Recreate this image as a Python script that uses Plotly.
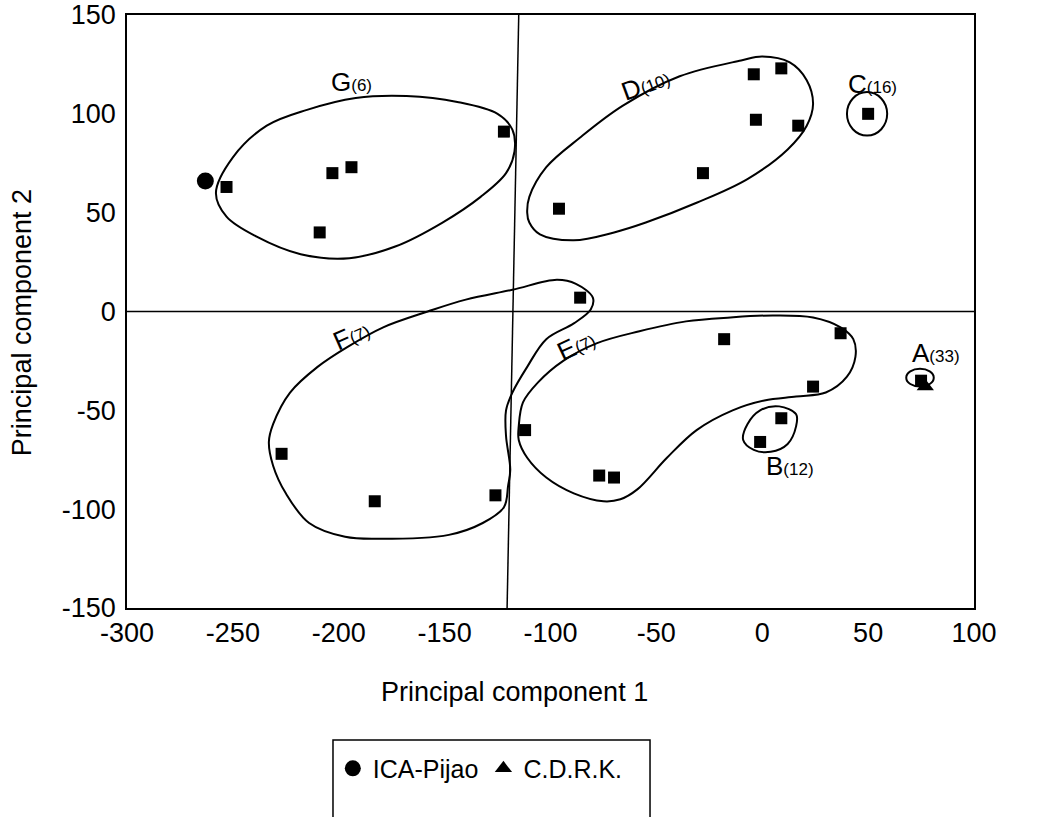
import plotly.graph_objects as go

# ---------------- data ----------------
# accessions (black squares)
acc_pc1 = [-253, -203, -194, -209, -122,          # G
           -96, -28, -4, 9, -3, 17,               # D
           50,                                    # C
           -227, -183, -126, -86,                 # F
           -112, -77, -70, -18, 37, 24,           # E
           9, -1,                                 # B
           75]                                    # A
acc_pc2 = [63, 70, 73, 40, 91,
           52, 70, 120, 123, 97, 94,
           100,
           -72, -96, -93, 7,
           -60, -83, -84, -14, -11, -38,
           -54, -66,
           -35]

# checks
ica_pc1 = [-263]
ica_pc2 = [66]
cdrk_pc1 = [77]
cdrk_pc2 = [-38]

# hand-drawn group outlines
g_out_pc1 = [-258, -250, -234, -215, -192, -168, -144, -125, -118, -117, -121, -133, -151, -173, -195, -218, -239, -253]
g_out_pc2 = [60, 78, 94, 102, 108, 109, 106, 100, 92, 81, 70, 58, 45, 33, 27, 29, 38, 48]

d_out_pc1 = [-111, -110, -102, -86, -66, -39, -10, 0, 13, 21, 24, 21, 12, -7, -31, -55, -70, -89, -105, -110]
d_out_pc2 = [50, 58, 73, 88, 104, 119, 127, 129, 126, 117, 105, 94, 82, 67, 55, 45, 40, 36, 39, 45]

e_out_pc1 = [-115, -113, -106, -94, -78, -58, -36, -15, 5, 24, 37, 43, 44, 40, 30, 16, 1, -14, -31, -45, -59, -67, -75, -89, -102, -111, -115]
e_out_pc2 = [-58, -46, -36, -25, -16, -10, -5, -3, -2, -3, -8, -14, -23, -33, -41, -43, -45, -50, -60, -74, -90, -95, -96, -92, -84, -74, -65]

f_out_pc1 = [-233, -231, -223, -210, -196, -179, -158, -140, -118, -97, -88, -80, -81, -89, -102, -111, -118, -121, -121, -119, -120, -122, -132, -148, -181, -197, -214, -225, -231]
f_out_pc2 = [-66, -57, -41, -28, -18, -8, 0, 6, 11, 16, 14, 7, 1, -6, -14, -28, -41, -50, -63, -80, -88, -99, -107, -113, -115, -114, -107, -92, -78]

b_out_pc1 = [-7, -1, 8, 16, 16, 12, 4, -4, -9]
b_out_pc2 = [-57, -50, -48, -52, -58, -67, -71, -70, -65]

# small rings (pc1 min/max, pc2 min/max)
c_ring = [40, 59, 89, 111]
a_ring = [68, 81, -38, -29]

# group labels
group_names = ["G", "D", "C", "F", "E", "B", "A"]
group_sizes = [6, 10, 16, 7, 7, 12, 33]

# reference lines
vline_pc1 = [-115, -120.5]
vline_pc2 = [150, -150]

x_ticks = [-300, -250, -200, -150, -100, -50, 0, 50, 100]
y_ticks = [-150, -100, -50, 0, 50, 100, 150]

# ---------------- figure ----------------
FONT = "Liberation Sans, Arial, Helvetica, sans-serif"
fig = go.Figure()


def closed(xs, ys):
    return list(xs) + [xs[0]], list(ys) + [ys[0]]


for xs, ys in [(g_out_pc1, g_out_pc2), (d_out_pc1, d_out_pc2), (e_out_pc1, e_out_pc2),
               (f_out_pc1, f_out_pc2), (b_out_pc1, b_out_pc2)]:
    cx, cy = closed(xs, ys)
    fig.add_trace(go.Scatter(x=cx, y=cy, mode="lines",
                             line=dict(color="black", width=2, shape="spline", smoothing=1),
                             showlegend=False, hoverinfo="skip"))

fig.add_trace(go.Scatter(x=acc_pc1, y=acc_pc2, mode="markers",
                         marker=dict(symbol="square", size=12, color="black"),
                         showlegend=False))
fig.add_trace(go.Scatter(x=ica_pc1, y=ica_pc2, mode="markers", name="ICA-Pijao",
                         marker=dict(symbol="circle", size=17, color="black")))
fig.add_trace(go.Scatter(x=cdrk_pc1, y=cdrk_pc2, mode="markers", name="C.D.R.K.",
                         marker=dict(symbol="triangle-up", size=15, color="black")))

shapes = [
    dict(type="line", xref="x", yref="y", x0=x_ticks[0], x1=x_ticks[-1], y0=0, y1=0,
         line=dict(color="black", width=1.5)),
    dict(type="line", xref="x", yref="y", x0=vline_pc1[0], x1=vline_pc1[1],
         y0=vline_pc2[0], y1=vline_pc2[1], line=dict(color="black", width=1.5)),
    dict(type="circle", xref="x", yref="y", x0=c_ring[0], x1=c_ring[1], y0=c_ring[2], y1=c_ring[3],
         line=dict(color="black", width=2)),
    dict(type="circle", xref="x", yref="y", x0=a_ring[0], x1=a_ring[1], y0=a_ring[2], y1=a_ring[3],
         line=dict(color="black", width=2)),
    # legend frame (open at the bottom, cut by the page edge)
    dict(type="path", xref="paper", yref="paper",
         path="M 0.2432 -0.40 L 0.2432 -0.2226 L 0.6175 -0.2226 L 0.6175 -0.40",
         line=dict(color="black", width=1.5)),
]

label_pos = {
    "G": (-194, 116, 0),
    "D": (-55, 115, -20),
    "C": (52, 115, 0),
    "F": (-194, -12, -24),
    "E": (-88, -17, -25),
    "B": (13, -78, 0),
    "A": (82, -21, 0),
}
annotations = []
for name, size in zip(group_names, group_sizes):
    px, py, ang = label_pos[name]
    annotations.append(dict(
        x=px, y=py, xref="x", yref="y", showarrow=False, textangle=ang,
        text=f"{name}<span style='font-size:17px'>({size})</span>",
        font=dict(family=FONT, size=26, color="black")))

annotations.append(dict(x=0.458, y=-0.142, xref="paper", yref="paper", showarrow=False,
                        text="Principal component 1", xanchor="center", yanchor="middle",
                        font=dict(family=FONT, size=27, color="black")))
annotations.append(dict(x=-0.124, y=0.482, xref="paper", yref="paper", showarrow=False,
                        text="Principal component 2", textangle=-90, xanchor="center", yanchor="middle",
                        font=dict(family=FONT, size=27, color="black")))

fig.update_layout(
    width=1037, height=817,
    margin=dict(l=127, r=63, t=15, b=209, autoexpand=False),
    paper_bgcolor="white", plot_bgcolor="white",
    font=dict(family=FONT, size=24, color="black"),
    shapes=shapes, annotations=annotations,
    legend=dict(orientation="h", x=0.243, y=-0.232, xanchor="left", yanchor="top",
                font=dict(family=FONT, size=25, color="black"),
                bgcolor="rgba(0,0,0,0)", borderwidth=0, itemwidth=30),
)
fig.update_xaxes(range=[x_ticks[0], x_ticks[-1]], tickvals=x_ticks, ticktext=[str(v) for v in x_ticks],
                 showgrid=False, zeroline=False, showline=True, mirror=True, linecolor="black",
                 linewidth=1.5, ticks="", ticklabelstandoff=0, tickfont=dict(size=27),
                 automargin=False)
fig.update_yaxes(range=[y_ticks[0], y_ticks[-1]], tickvals=y_ticks, ticktext=[str(v) for v in y_ticks],
                 showgrid=False, zeroline=False, showline=True, mirror=True, linecolor="black",
                 linewidth=1.5, ticks="", ticklabelstandoff=4, tickfont=dict(size=27),
                 automargin=False)

fig.write_html("out.html", config={"displayModeBar": False},
               post_script="document.body.style.margin='0';")
